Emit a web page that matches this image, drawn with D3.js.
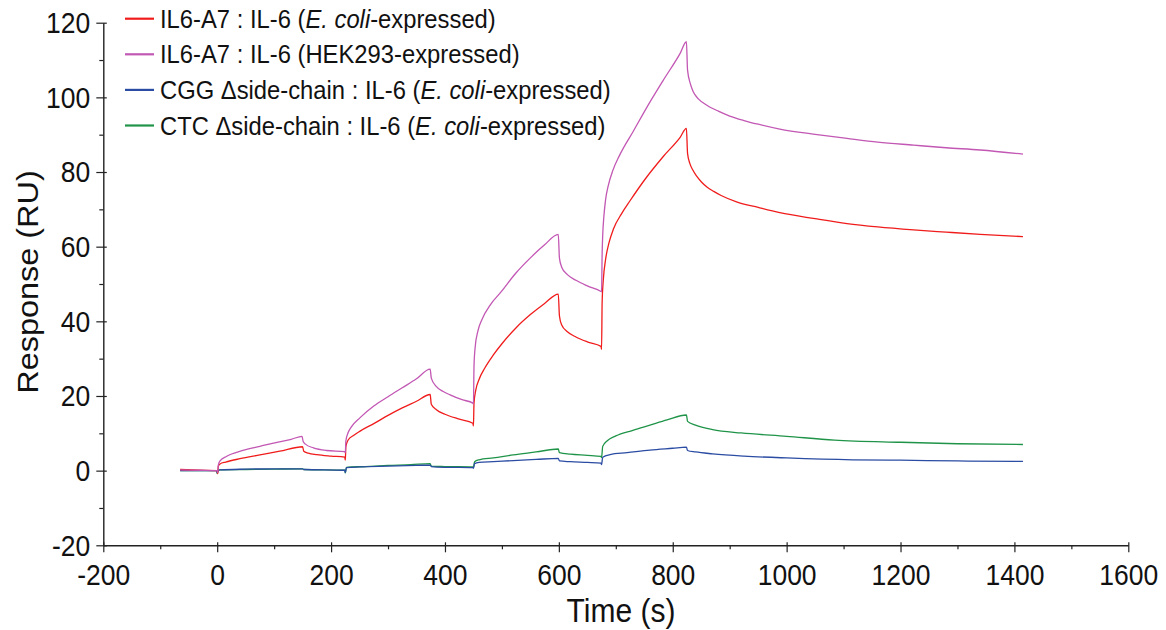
<!DOCTYPE html>
<html>
<head>
<meta charset="utf-8">
<script src="https://cdn.jsdelivr.net/npm/d3@7"></script>
<style>
  html, body { margin: 0; padding: 0; background: #fff; }
  svg text { font-family: "Liberation Sans", Arial, sans-serif; fill: #111; }
  .st { transform-box: fill-box; transform-origin: 50% 50%; transform: scaleY(1.1); }
</style>
</head>
<body>
<svg id="chart" width="1166" height="630"></svg>
<script>
// ---- data (time in s, response in RU) ----
const seriesNames = [
  "IL6-A7 : IL-6 (E. coli-expressed)",
  "IL6-A7 : IL-6 (HEK293-expressed)",
  "CGG Δside-chain : IL-6 (E. coli-expressed)",
  "CTC Δside-chain : IL-6 (E. coli-expressed)"
];
const seriesColors = ["#f01c1c", "#c257b4", "#2b4ca3", "#1f9448"];

const a7Ecoli = [[-65,0.3],[-30,0.1],[0,0],[1,-0.8],[2,1.2],[5,1.8],[15,2.3],[40,3.2],[75,4.2],[110,5.2],[150,6.4],
  [152,5.2],[160,4.7],[175,4.3],[200,3.9],[224,3.6],[225,2.8],[226,6.5],[230,8.2],[240,9.5],[251,10.6],[275,12.6],[300,14.8],[325,16.8],[350,18.6],[374,20.4],
  [376,17.8],[385,16.3],[400,15.1],[425,13.8],[449,12.7],[450,12.0],[451,18],[454,21.5],[460,24.5],[470,27.5],[485,31],[500,34],[525,38.3],[550,41.8],[575,44.8],[599,47.3],
  [601,41.5],[605,39],[615,37.2],[630,35.8],[650,34.5],[674,33.3],[675,32.5],[676,45],[678,51],[682,56.5],[688,61],[696,64.8],[710,68.8],[725,72.3],[754,78.6],[783,84.1],[813,89.3],[824,91.7],
  [826,85],[830,82.3],[835,80.6],[842,78.9],[850,77.4],[860,76.0],[872,74.8],[885,73.7],[912,72],[950,70.5],[988,69.1],[1050,67.5],[1106,66.2],[1160,65.3],[1223,64.5],[1280,63.9],[1340,63.3],[1415,62.7]];

const a7Hek = [[-65,0.2],[-30,0.1],[0,0],[1,-0.5],[2,1.5],[5,2.6],[16,3.8],[45,5.4],[75,6.5],[105,7.6],[130,8.4],[149,9.2],
  [151,7.8],[155,7.1],[169,6.1],[192,5.4],[224,5.1],[225,4.8],[226,8],[230,10.2],[236,11.8],[251,14.2],[275,17.3],[300,19.8],[325,22.2],[350,24.6],[374,27.2],
  [376,24.8],[385,22.5],[397,21.2],[409,20.3],[430,19],[449,18.1],[450,17.8],[451,28],[453,33],[458,37.5],[465,40.5],[480,44.5],[497,47.6],[525,53],[550,57],[575,60.5],[599,63.3],
  [601,57],[605,54.5],[615,52.5],[630,51],[650,49.5],[674,48],[675,47.9],[676,58],[677,63],[679,68],[682,72.5],[687,76.5],[695,80.5],[707,84.6],[731,91.0],[754,97.2],[783,104.5],[813,111.8],[824,114.9],
  [826,107.3],[831,103.6],[836,101.5],[845,99.6],[860,97.9],[880,96.3],[900,95.0],[925,93.8],[950,92.8],[988,91.5],[1050,90.1],[1106,89.0],[1160,88],[1223,87.2],[1280,86.5],[1340,85.9],[1415,84.8]];

const cggEcoli = [[-65,0],[-1,0],[0,-0.6],[1,-0.2],[5,0.2],[50,0.4],[100,0.5],[150,0.5],[152,0.3],[224,0.1],[225,-0.5],[227,0.8],[250,1.0],[300,1.2],[350,1.4],[374,1.5],
  [376,1.1],[400,0.9],[449,0.8],[450,0.6],[452,1.9],[460,2.2],[485,2.4],[520,2.7],[560,3.0],[599,3.3],[601,2.6],[620,2.4],[650,2.2],[674,2.0],[675,1.6],[677,3.6],[690,4.3],[720,4.8],[760,5.5],[800,6.0],[824,6.3],
  [826,5.4],[840,5.0],[870,4.5],[925,3.9],[1000,3.4],[1116,2.9],[1200,2.8],[1300,2.6],[1415,2.5]];

const ctcEcoli = [[-65,0],[-1,0],[0,-0.8],[2,0.2],[50,0.3],[100,0.4],[150,0.5],[152,0.3],[224,0.1],[225,-0.6],[227,0.9],[260,1.1],[300,1.4],[340,1.6],[374,1.9],
  [376,1.2],[400,1.1],[449,1.0],[450,0.8],[452,2.4],[460,2.9],[485,3.4],[520,4.2],[560,5.0],[599,5.8],[601,4.8],[620,4.4],[650,4.1],[674,3.8],[675,3.5],[677,6.5],[685,8.0],[700,9.3],[730,10.8],[760,12.2],[790,13.6],[824,14.9],
  [826,13.2],[840,12.2],[870,11.0],[920,10.1],[1000,9.2],[1084,8.2],[1200,7.6],[1300,7.2],[1415,7.0]];

const xTicks = [-200, 0, 200, 400, 600, 800, 1000, 1200, 1400, 1600];
const yTicks = [-20, 0, 20, 40, 60, 80, 100, 120];
const xLabel = "Time (s)";
const yLabel = "Response (RU)";

// ---- layout ----
const svg = d3.select("#chart");
const x = d3.scaleLinear().domain([-200, 1600]).range([103.3, 1128.3]);
const y = d3.scaleLinear().domain([-20, 120]).range([545.3, 22.7]);

const axisColor = "#222";
const fmt = d => String(d);   // plain hyphen-minus like the reference

// minor ticks
const xMinor = d3.range(-100, 1600, 200);
const yMinor = d3.range(-10, 120, 20);

svg.append("g").attr("transform", `translate(0,${y(-20)})`)
  .call(d3.axisBottom(x).tickValues(xMinor).tickSize(4).tickFormat(""))
  .call(g => g.select(".domain").remove())
  .call(g => g.selectAll("line").attr("stroke", axisColor).attr("stroke-width", 1.2));

svg.append("g").attr("transform", `translate(${x(-200)},0)`)
  .call(d3.axisLeft(y).tickValues(yMinor).tickSize(4).tickFormat(""))
  .call(g => g.select(".domain").remove())
  .call(g => g.selectAll("line").attr("stroke", axisColor).attr("stroke-width", 1.2));

const xAxis = svg.append("g").attr("transform", `translate(0,${y(-20)})`)
  .call(d3.axisBottom(x).tickValues(xTicks).tickSize(7).tickSizeOuter(0).tickPadding(0).tickFormat(fmt));
xAxis.select(".domain").attr("stroke", axisColor).attr("stroke-width", 1.4);
xAxis.selectAll(".tick line").attr("stroke", axisColor).attr("stroke-width", 1.2).attr("y1", -3).attr("y2", 7);
xAxis.selectAll(".tick text").attr("class", "st").attr("y", 39).attr("dy", 0)
  .style("font-size", "26.5px").attr("fill", "#111");

const yAxis = svg.append("g").attr("transform", `translate(${x(-200)},0)`)
  .call(d3.axisLeft(y).tickValues(yTicks).tickSize(7).tickSizeOuter(0).tickPadding(0).tickFormat(fmt));
yAxis.select(".domain").attr("stroke", axisColor).attr("stroke-width", 1.4);
yAxis.selectAll(".tick line").attr("stroke", axisColor).attr("stroke-width", 1.2).attr("x1", 3.5).attr("x2", -7);
yAxis.selectAll(".tick text").attr("class", "st").attr("x", -13).attr("dy", "0.34em")
  .style("font-size", "26.5px").attr("fill", "#111");
svg.selectAll("g").attr("font-family", null).attr("font-size", null);

// axis titles
svg.append("text").attr("class", "st")
  .attr("x", 621).attr("y", 621).attr("text-anchor", "middle")
  .style("font-size", "30px").text(xLabel);
svg.append("text")
  .attr("transform", `translate(38,${282}) rotate(-90) scale(1.1,1)`)
  .attr("text-anchor", "middle")
  .style("font-size", "29.5px").text(yLabel);

// ---- lines ----
const line = d3.line().x(d => x(d[0])).y(d => y(d[1])).curve(d3.curveMonotoneX);
const drawOrder = [[ctcEcoli, 3], [cggEcoli, 2], [a7Ecoli, 0], [a7Hek, 1]];
svg.append("g").selectAll("path").data(drawOrder).join("path")
  .attr("d", d => line(d[0]))
  .attr("fill", "none")
  .attr("stroke", d => seriesColors[d[1]])
  .attr("stroke-width", 1.3)
  .attr("stroke-linejoin", "round");

// ---- legend ----
const legend = svg.append("g");
const rowY = i => 18.7 + i * 35.6;
seriesNames.forEach((name, i) => {
  legend.append("line").attr("x1", 125).attr("x2", 154).attr("y1", rowY(i)).attr("y2", rowY(i))
    .attr("stroke", seriesColors[i]).attr("stroke-width", 2.2);
  const t = legend.append("text").attr("class", "st").attr("x", 160).attr("y", rowY(i)).attr("dy", "0.35em")
    .style("font-size", "23.8px");
  const m = name.match(/^(.*\()E\. coli(-expressed\))$/);
  if (m) {
    t.append("tspan").text(m[1]);
    t.append("tspan").style("font-style", "italic").text("E. coli");
    t.append("tspan").text(m[2]);
  } else {
    t.text(name);
  }
});
</script>
</body>
</html>
